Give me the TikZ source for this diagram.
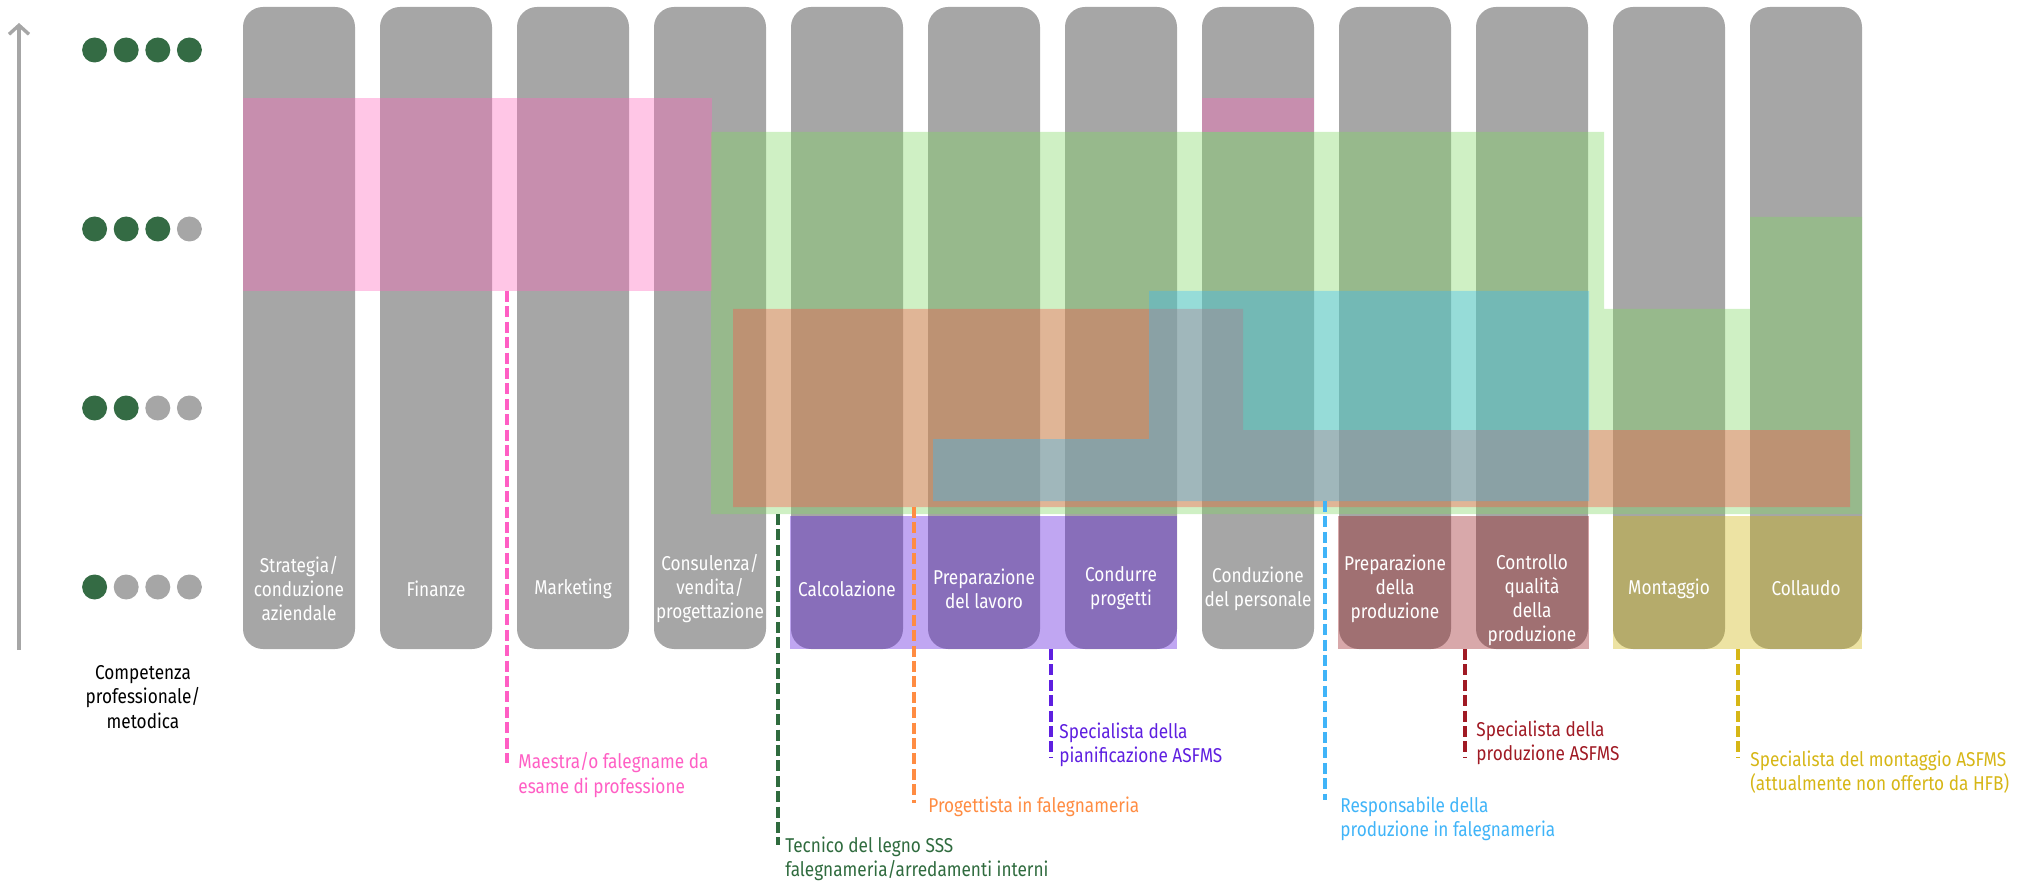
\documentclass[tikz,border=0pt]{standalone}
\usepackage{fontspec}
\setmainfont{Fira Sans}[FakeStretch=0.86]
\usetikzlibrary{arrows.meta,calc}

\definecolor{colgrey}{HTML}{A6A6A6}
\definecolor{dotgreen}{HTML}{346B44}
\definecolor{pinkov}{RGB}{255,105,189}
\definecolor{greenov}{RGB}{129,216,100}
\definecolor{orangeov}{RGB}{252,85,75}
\definecolor{cyanov}{RGB}{57,187,249}
\definecolor{purpleov}{RGB}{89,21,221}
\definecolor{redov}{RGB}{152,26,31}
\definecolor{yellowov}{RGB}{208,181,13}
\definecolor{pinkln}{HTML}{FF5EC4}
\definecolor{greenln}{HTML}{2F6B3E}
\definecolor{orangeln}{HTML}{FF8C42}
\definecolor{purpleln}{HTML}{5E1FE0}
\definecolor{blueln}{HTML}{40B4F8}
\definecolor{redln}{HTML}{A01A24}
\definecolor{yellowln}{HTML}{D6B616}

\begin{document}
\begin{tikzpicture}[x=0.5pt, y=-0.5pt,
    colbox/.style={fill=colgrey, rounded corners=10pt, minimum width=56pt,
      minimum height=321pt, inner sep=0pt},
    collbl/.style={text=white, align=center, inner sep=0pt,
      font=\fontsize{10}{12}\selectfont},
    ov/.style={fill opacity=0.38},
    dashline/.style={line width=1.8pt, dash pattern=on 5.5pt off 2.2pt},
    joblbl/.style={anchor=north west, align=left, inner sep=0pt,
      font=\fontsize{10}{12.3}\selectfont},
    dot/.style={circle, minimum size=12.5pt, inner sep=0pt}]
  \useasboundingbox (0,0) rectangle (2025,882);

  % Axis
  \coordinate (axbot) at (19,650);
  \coordinate (axtop) at (19,23);
  \draw[colgrey, line width=1.7pt, -{Straight Barb[length=4.5pt,width=10pt]}] (axbot) -- (axtop);
  \node[align=center, inner sep=0pt, font=\fontsize{10}{12.3}\selectfont] (axlbl) at (143,697)
    {Competenza\\professionale/\\metodica};

  % Levels
  \foreach \lev/\y in {4/50, 3/229, 2/408, 1/587}
    \foreach \k in {1,...,4} {
      \ifnum\k>\lev \def\dc{colgrey}\else \def\dc{dotgreen}\fi
      \node[dot, fill=\dc] (d\lev\k) at ({94.6+31.6*(\k-1)},\y) {};
    }

  % Columns
  \foreach \i in {1,...,12}
    \node[colbox] (col\i) at ({299+137*(\i-1)},328) {};

  % Maestra/o falegname
  \fill[pinkov, ov] (243,98) rectangle (712,291);
  \fill[pinkov, ov] (1202,98) rectangle (1314,132);
  % Tecnico del legno
  \fill[greenov, ov] (711,132) -- (1604,132) -- (1604,309) -- (1750,309) -- (1750,217)
    -- (1862,217) -- (1862,514) -- (711,514) -- cycle;
  % Progettista
  \fill[orangeov, ov] (733,309) -- (1243,309) -- (1243,430) -- (1850,430) -- (1850,507)
    -- (733,507) -- cycle;
  % Responsabile
  \fill[cyanov, ov] (1149,291) -- (1589,291) -- (1589,501) -- (933,501) -- (933,439)
    -- (1149,439) -- cycle;
  % Specialisti ASFMS
  \fill[purpleov, ov] (790,516) rectangle (1177,649);
  \fill[redov, ov] (1338,516) rectangle (1589,649);
  \fill[yellowov, ov] (1613,516) rectangle (1862,649);

  % Column labels
  \foreach \txt [count=\i] in {{Strategia/\\conduzione\\aziendale}, Finanze, Marketing,
      {Consulenza/\\vendita/\\progettazione}, Calcolazione, {Preparazione\\del lavoro},
      {Condurre\\progetti}, {Conduzione\\del personale}, {Preparazione\\della\\produzione},
      {Controllo\\qualità\\della\\produzione}, Montaggio, Collaudo} {
    \ifnum\i=10 \def\sh{24.5pt}\else \def\sh{30.5pt}\fi
    \node[collbl] (lbl\i) at ([yshift=\sh]col\i.south) {\txt};
  }

  % Profiles
  \coordinate (maestraTop) at (507,291);
  \coordinate (tecnicoTop) at (778,514);
  \coordinate (progTop) at (914,507);
  \coordinate (pianTop) at (1051,649);
  \coordinate (respTop) at (1325,501);
  \coordinate (prodTop) at (1465,649);
  \coordinate (montTop) at (1738,649);

  \node[joblbl, text=pinkln] (maestra) at (518,752) {Maestra/o falegname da\\esame di professione};
  \node[joblbl, text=greenln] (tecnico) at (785,836) {Tecnico del legno SSS\\falegnameria/arredamenti interni};
  \node[joblbl, text=orangeln] (prog) at (928,796) {Progettista in falegnameria};
  \node[joblbl, text=purpleln] (pian) at (1059,722) {Specialista della\\pianificazione ASFMS};
  \node[joblbl, text=blueln] (resp) at (1340,796) {Responsabile della\\produzione in falegnameria};
  \node[joblbl, text=redln] (prod) at (1476,720) {Specialista della\\produzione ASFMS};
  \node[joblbl, text=yellowln] (mont) at (1750,750) {Specialista del montaggio ASFMS\\(attualmente non offerto da HFB)};

  \draw[dashline, pinkln] (maestraTop) -- ($(maestraTop |- maestra.north)+(0,11)$);
  \draw[dashline, greenln] (tecnicoTop) -- ($(tecnicoTop |- tecnico.north)+(0,9)$);
  \draw[dashline, orangeln] (progTop) -- ($(progTop |- prog.north)+(0,7)$);
  \draw[dashline, purpleln] (pianTop) -- ($(pianTop |- pian.north)+(0,35)$);
  \draw[dashline, blueln] (respTop) -- ($(respTop |- resp.north)+(0,4)$);
  \draw[dashline, redln] (prodTop) -- ($(prodTop |- prod.north)+(0,37)$);
  \draw[dashline, yellowln] (montTop) -- ($(montTop |- mont.north)+(0,7)$);
\end{tikzpicture}
\end{document}
